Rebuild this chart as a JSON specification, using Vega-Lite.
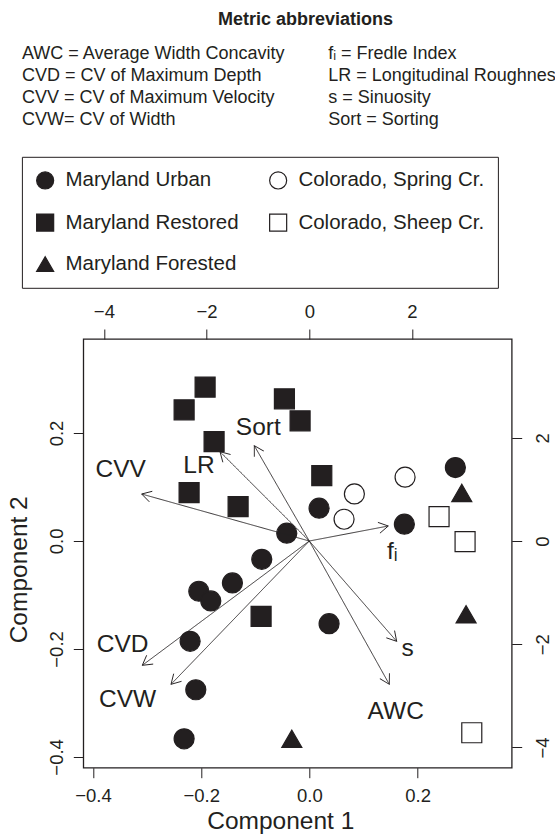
{
  "$schema": "https://vega.github.io/schema/vega-lite/v6.json",
  "width": 428.4,
  "height": 428.7,
  "autosize": {"type": "none"},
  "padding": {"left": 83.3, "top": 339, "right": 43.3, "bottom": 69.3},
  "title": {"text": "Metric abbreviations", "fontSize": 18, "fontWeight": "bold", "anchor": "middle", "frame": "group", "offset": 16.5, "dx": 8, "color": "#231f20", "font": "Liberation Sans"},
  "config": {
    "font": "Liberation Sans",
    "view": {"stroke": "#231f20", "strokeWidth": 1.3},
    "axis": {"grid": false, "domain": false, "tickColor": "#231f20", "tickSize": 10, "tickWidth": 1, "labelFontSize": 18.5, "labelColor": "#231f20", "labelFont": "Liberation Sans", "titleFont": "Liberation Sans", "titleFontWeight": "normal", "titleFontSize": 24.5, "titleColor": "#231f20", "labelFlush": false, "labelOverlap": false}
  },
  "datasets": {
    "sites": [
      {"group": "Maryland Restored", "pc1": -0.1928, "pc2": 0.2849},
      {"group": "Maryland Restored", "pc1": -0.2316, "pc2": 0.2428},
      {"group": "Maryland Restored", "pc1": -0.1762, "pc2": 0.1841},
      {"group": "Maryland Restored", "pc1": -0.2224, "pc2": 0.0895},
      {"group": "Maryland Restored", "pc1": -0.1318, "pc2": 0.0636},
      {"group": "Maryland Restored", "pc1": -0.0462, "pc2": 0.2632},
      {"group": "Maryland Restored", "pc1": -0.0172, "pc2": 0.2224},
      {"group": "Maryland Restored", "pc1": 0.0229, "pc2": 0.1211},
      {"group": "Maryland Restored", "pc1": -0.0893, "pc2": -0.1396},
      {"group": "Maryland Urban", "pc1": 0.2699, "pc2": 0.1359},
      {"group": "Maryland Urban", "pc1": 0.0179, "pc2": 0.0606},
      {"group": "Maryland Urban", "pc1": 0.1756, "pc2": 0.0310},
      {"group": "Maryland Urban", "pc1": -0.0418, "pc2": 0.0143},
      {"group": "Maryland Urban", "pc1": -0.0880, "pc2": -0.0340},
      {"group": "Maryland Urban", "pc1": -0.1423, "pc2": -0.0778},
      {"group": "Maryland Urban", "pc1": -0.2044, "pc2": -0.0932},
      {"group": "Maryland Urban", "pc1": -0.1823, "pc2": -0.1112},
      {"group": "Maryland Urban", "pc1": -0.2205, "pc2": -0.1859},
      {"group": "Maryland Urban", "pc1": -0.2100, "pc2": -0.2756},
      {"group": "Maryland Urban", "pc1": -0.2316, "pc2": -0.3665},
      {"group": "Maryland Urban", "pc1": 0.0364, "pc2": -0.1533},
      {"group": "Maryland Forested", "pc1": 0.2817, "pc2": 0.0890},
      {"group": "Maryland Forested", "pc1": 0.2897, "pc2": -0.1359},
      {"group": "Maryland Forested", "pc1": -0.0325, "pc2": -0.3665},
      {"group": "Colorado, Spring Cr.", "pc1": 0.1769, "pc2": 0.1181},
      {"group": "Colorado, Spring Cr.", "pc1": 0.0832, "pc2": 0.0871},
      {"group": "Colorado, Spring Cr.", "pc1": 0.0641, "pc2": 0.0402},
      {"group": "Colorado, Sheep Cr.", "pc1": 0.2397, "pc2": 0.0450},
      {"group": "Colorado, Sheep Cr.", "pc1": 0.2878, "pc2": -0.0012},
      {"group": "Colorado, Sheep Cr.", "pc1": 0.3002, "pc2": -0.3553}
    ],
    "metrics": [
      {"metric": "CVV", "definition": "CVV = CV of Maximum Velocity", "x": -3.264, "y": 0.911, "lx": -3.673, "ly": 1.376},
      {"metric": "LR", "definition": "LR = Longitudinal Roughness", "x": -1.739, "y": 1.731, "lx": -2.148, "ly": 1.459},
      {"metric": "Sort", "definition": "Sort = Sorting", "x": -1.071, "y": 1.847, "lx": -0.993, "ly": 2.196},
      {"metric": "f\u1d62", "definition": "f\u1d62 = Fredle Index", "x": 1.538, "y": 0.291, "lx": 1.616, "ly": -0.219},
      {"metric": "s", "definition": "s = Sinuosity", "x": 1.702, "y": -1.944, "lx": 1.916, "ly": -2.099},
      {"metric": "AWC", "definition": "AWC = Average Width Concavity", "x": 1.558, "y": -2.777, "lx": 1.683, "ly": -3.314},
      {"metric": "CVD", "definition": "CVD = CV of Maximum Depth", "x": -3.252, "y": -2.409, "lx": -3.634, "ly": -2.010},
      {"metric": "CVW", "definition": "CVW= CV of Width", "x": -2.693, "y": -2.777, "lx": -3.537, "ly": -3.087}
    ]
  },
  "layer": [
    {
      "data": {"name": "sites"},
      "mark": {"type": "point", "filled": true, "size": 400, "strokeWidth": 1.2, "opacity": 1},
      "encoding": {
        "x": {"field": "pc1", "type": "quantitative", "scale": {"domain": [-0.418, 0.374], "nice": false, "zero": false},
              "axis": {"orient": "bottom", "values": [-0.4, -0.2, 0, 0.2], "format": ".1f", "labelPadding": 9, "title": "Component 1", "titleX": 197, "titleY": 54, "titleAnchor": null, "titleAlign": "center", "titleBaseline": "middle"}},
        "y": {"field": "pc2", "type": "quantitative", "scale": {"domain": [-0.420, 0.374], "nice": false, "zero": false},
              "axis": {"orient": "left", "values": [-0.4, -0.2, 0, 0.2], "format": ".1f", "labelAngle": -90, "labelAlign": "center", "labelBaseline": "bottom", "labelPadding": 6.5, "title": "Component 2", "titleX": -64.3, "titleY": 230.3, "titleAngle": -90, "titleAlign": "center", "titleBaseline": "middle"}},
        "shape": {"field": "group", "type": "nominal",
                  "scale": {"domain": ["Maryland Urban", "Maryland Restored", "Maryland Forested", "Colorado, Spring Cr.", "Colorado, Sheep Cr."], "range": ["circle", "square", "triangle-up", "circle", "square"]},
                  "legend": {"orient": "none", "legendX": -61.4, "legendY": -182.2, "title": null, "columns": 2, "symbolSize": 290, "labelFontSize": 20.5, "labelOffset": 10, "rowPadding": 19.5, "columnPadding": 28, "padding": 13, "strokeColor": "#231f20", "labelLimit": 600, "labelColor": "#231f20", "symbolStrokeWidth": 1.2}},
        "fill": {"field": "group", "type": "nominal",
                 "scale": {"domain": ["Maryland Urban", "Maryland Restored", "Maryland Forested", "Colorado, Spring Cr.", "Colorado, Sheep Cr."], "range": ["#231f20", "#231f20", "#231f20", "#ffffff", "#ffffff"]},
                 "legend": {"orient": "none", "legendX": -61.4, "legendY": -182.2, "title": null, "columns": 2, "symbolSize": 290, "labelFontSize": 20.5, "labelOffset": 10, "rowPadding": 19.5, "columnPadding": 28, "padding": 13, "strokeColor": "#231f20", "labelLimit": 600, "labelColor": "#231f20", "symbolStrokeWidth": 1.2}},
        "stroke": {"field": "group", "type": "nominal",
                 "scale": {"domain": ["Maryland Urban", "Maryland Restored", "Maryland Forested", "Colorado, Spring Cr.", "Colorado, Sheep Cr."], "range": ["#231f20", "#231f20", "#231f20", "#231f20", "#231f20"]},
                 "legend": {"orient": "none", "legendX": -61.4, "legendY": -182.2, "title": null, "columns": 2, "symbolSize": 290, "labelFontSize": 20.5, "labelOffset": 10, "rowPadding": 19.5, "columnPadding": 28, "padding": 13, "strokeColor": "#231f20", "labelLimit": 600, "labelColor": "#231f20", "symbolStrokeWidth": 1.2}}
      }
    },
    {
      "data": {"name": "metrics"},
      "layer": [
        {
          "mark": {"type": "rule", "strokeWidth": 0.9, "stroke": "#231f20"},
          "encoding": {
            "x": {"field": "x", "type": "quantitative", "scale": {"domain": [-4.401, 3.942], "nice": false, "zero": false},
                  "axis": {"orient": "top", "values": [-4, -2, 0, 2], "format": "d", "labelPadding": 8, "title": null}},
            "y": {"field": "y", "type": "quantitative", "scale": {"domain": [-4.393, 3.915], "nice": false, "zero": false},
                  "axis": {"orient": "right", "values": [-4, -2, 0, 2], "format": "d", "labelAngle": -90, "labelAlign": "center", "labelBaseline": "middle", "labelPadding": 21, "title": null}},
            "x2": {"datum": 0},
            "y2": {"datum": 0},
            "strokeDash": {"field": "definition", "type": "nominal",
                       "scale": {"domain": ["AWC = Average Width Concavity", "CVD = CV of Maximum Depth", "CVV = CV of Maximum Velocity", "CVW= CV of Width", "f\u1d62 = Fredle Index", "LR = Longitudinal Roughness", "s = Sinuosity", "Sort = Sorting"],
                                 "range": [[1, 0], [1, 0], [1, 0], [1, 0], [1, 0], [1, 0], [1, 0], [1, 0]]},
                       "legend": {"orient": "none", "legendX": -79.4, "legendY": -294, "title": null, "columns": 2, "symbolSize": 0, "symbolStrokeWidth": 0, "symbolOpacity": 0, "labelOffset": 0, "labelFontSize": 18, "labelLimit": 600, "rowPadding": 4, "columnPadding": 24.3, "labelColor": "#231f20", "padding": 0}}
          }
        },
        {
          "transform": [{"calculate": "atan2(datum.x, datum.y) * 180 / PI", "as": "angle"}],
          "mark": {"type": "point", "shape": "M -0.577 1 L 0 0 L 0.577 1", "filled": false, "size": 360, "stroke": "#231f20", "strokeWidth": 0.9, "opacity": 1},
          "encoding": {
            "x": {"field": "x", "type": "quantitative"},
            "y": {"field": "y", "type": "quantitative"},
            "angle": {"field": "angle", "type": "quantitative", "scale": null}
          }
        },
        {
          "mark": {"type": "text", "fontSize": 24.5, "color": "#231f20", "align": "center", "baseline": "middle", "font": "Liberation Sans"},
          "encoding": {
            "x": {"field": "lx", "type": "quantitative"},
            "y": {"field": "ly", "type": "quantitative"},
            "text": {"field": "metric"}
          }
        }
      ]
    }
  ],
  "resolve": {"scale": {"x": "independent", "y": "independent"}}
}
